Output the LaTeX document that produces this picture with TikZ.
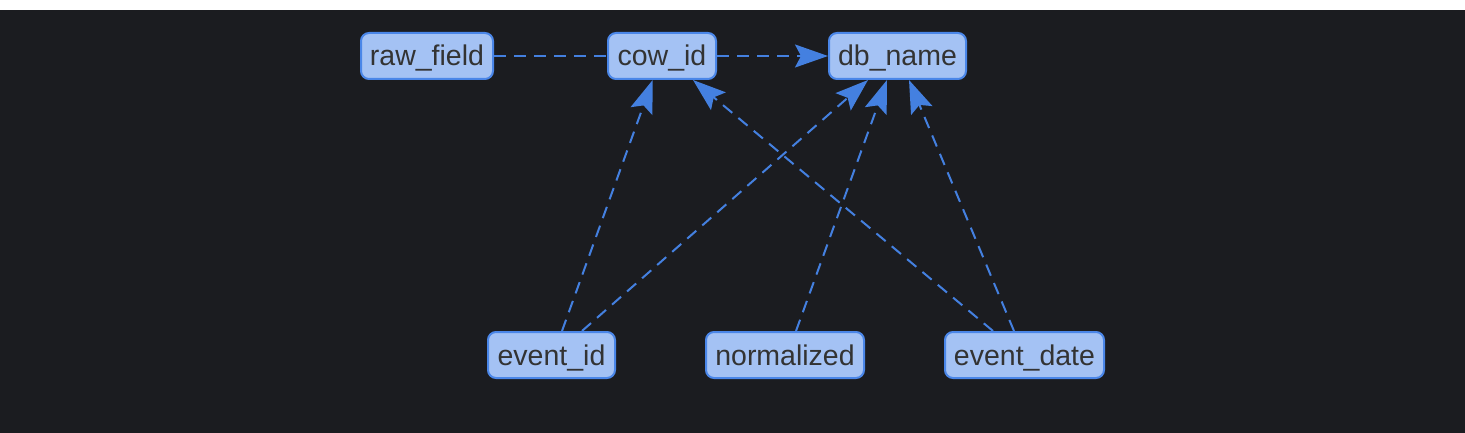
\documentclass[tikz,border=0pt]{standalone}
\usepackage{fontspec}
\setmainfont{Liberation Sans}
\usetikzlibrary{arrows.meta}
\definecolor{bg}{HTML}{1B1C20}
\definecolor{nodefill}{HTML}{A4C2F4}
\definecolor{nodeborder}{HTML}{4A86E8}
\definecolor{edgecol}{HTML}{4480E0}
\definecolor{txt}{HTML}{333333}
\begin{document}
\begin{tikzpicture}[x=1pt,y=-1pt,
  box/.style={draw=nodeborder, fill=nodefill, line width=2pt, rounded corners=8pt, text=txt,
    font=\fontsize{28.5}{32}\selectfont, inner sep=0pt, minimum height=46pt,
    text height=24pt, text depth=4pt},
  link/.style={draw=edgecol, line width=2pt, dash pattern=on 12pt off 8pt},
  arr/.style={link, -{Stealth[length=33pt,width=23pt,inset=6pt]}}
]
\fill[white] (0,0) rectangle (1465,10);
\fill[bg] (0,10) rectangle (1465,433);
\useasboundingbox (0,0) rectangle (1465,433);

\node[box, minimum width=132pt] (raw) at (427,56) {raw\_field};
\node[box, minimum width=108pt] (cow) at (662,56) {cow\_id};
\node[box, minimum width=137pt] (db) at (897.5,56) {db\_name};
\node[box, minimum width=127pt] (eid) at (551.5,355) {event\_id};
\node[box, minimum width=158pt] (norm) at (785,355) {normalized};
\node[box, minimum width=159pt] (edate) at (1024.5,355) {event\_date};

\draw[link] (raw.east) -- (cow.west);
\draw[arr] (cow.east) -- (db.west);
\draw[arr] ([xshift=10.5pt]eid.north) -- ([xshift=-9.3pt]cow.south);
\draw[arr] ([xshift=30.5pt]eid.north) -- ([xshift=-29.5pt]db.south);
\draw[arr] ([xshift=11pt]norm.north) -- ([xshift=-10.5pt]db.south);
\draw[arr] ([xshift=-31.5pt]edate.north) -- ([xshift=31pt]cow.south);
\draw[arr] ([xshift=-10.5pt]edate.north) -- ([xshift=11.5pt]db.south);
\end{tikzpicture}
\end{document}
